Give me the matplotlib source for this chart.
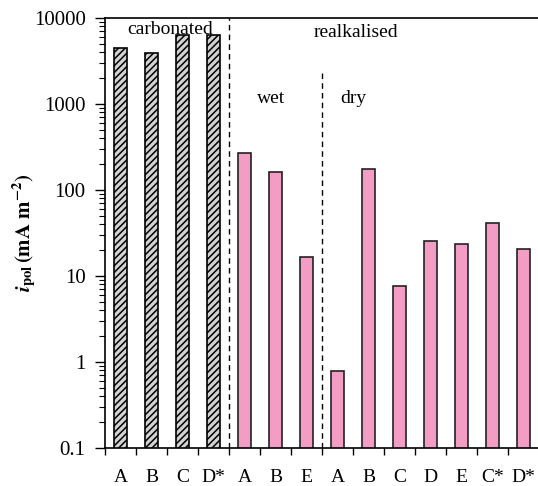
import numpy as np
import matplotlib.pyplot as plt

plt.rcParams['font.family'] = 'Liberation Serif'
plt.rcParams['mathtext.fontset'] = 'stix'
plt.rcParams['hatch.color'] = '#555555'
plt.rcParams['hatch.linewidth'] = 1.1

labels = ['A', 'B', 'C', 'D*', 'A', 'B', 'E', 'A', 'B', 'C', 'D', 'E', 'C*', 'D*']
carbonated = [4520, 3880, 6290, 6400]
wet = [269, 162, 16.6]
dry = [0.79, 175, 7.65, 25.8, 23.4, 41, 20.8]

x = np.arange(len(labels))
values = carbonated + wet + dry
n_carb = len(carbonated)

fig = plt.figure(figsize=(5.38, 4.86), dpi=100)
ax = fig.add_axes([105 / 538, 38 / 486, 434 / 538, 430 / 486])

ax.bar(x[:n_carb], carbonated, width=0.42, color='#d2d2d2',
       edgecolor='black', linewidth=1.2, hatch='/////')
ax.bar(x[n_carb:], values[n_carb:], width=0.42, color='#f39dc5',
       edgecolor='#222222', linewidth=1.2)

ax.set_yscale('log')
ax.set_ylim(0.1, 10000)
ax.set_xlim(-0.5, len(labels) - 0.5)

# separators
ax.axvline(n_carb - 0.5, color='black', linestyle=(0, (4, 3)), linewidth=1)
ax.plot([n_carb + len(wet) - 0.5] * 2, [0.1, 2300], color='black',
        linestyle=(0, (4, 3)), linewidth=1)

ax.text(1.6, 7400, 'carbonated', ha='center', va='center', fontsize=14)
ax.text(7.6, 6800, 'realkalised', ha='center', va='center', fontsize=14)
ax.text(4.85, 1150, 'wet', ha='center', va='center', fontsize=14)
ax.text(7.5, 1150, 'dry', ha='center', va='center', fontsize=14)

ax.set_xticks(np.arange(len(labels) + 1) - 0.5)
ax.set_xticklabels([])
ax.set_xticks(x, minor=True)
ax.set_xticklabels(labels, minor=True, fontsize=14)
ax.tick_params(axis='x', which='major', direction='out', length=5, width=1)
ax.tick_params(axis='x', which='minor', length=0, pad=15)

ax.set_yticks([0.1, 1, 10, 100, 1000, 10000])
ax.set_yticklabels(['0.1', '1', '10', '100', '1000', '10000'], fontsize=15)
ax.tick_params(axis='y', which='major', direction='out', length=7, width=1, pad=7)
ax.tick_params(axis='y', which='minor', direction='out', length=4, width=0.8)

ax.spines['right'].set_visible(False)
for s in ['left', 'bottom', 'top']:
    ax.spines[s].set_linewidth(1.2)

ax.set_ylabel(r'$\mathbfit{i}_{\mathbf{pol}}\,\mathbf{(mA\ m^{-2})}$', fontsize=15)
ax.yaxis.set_label_coords(-0.152, 0.5)

fig.savefig('out.png', dpi=100)
